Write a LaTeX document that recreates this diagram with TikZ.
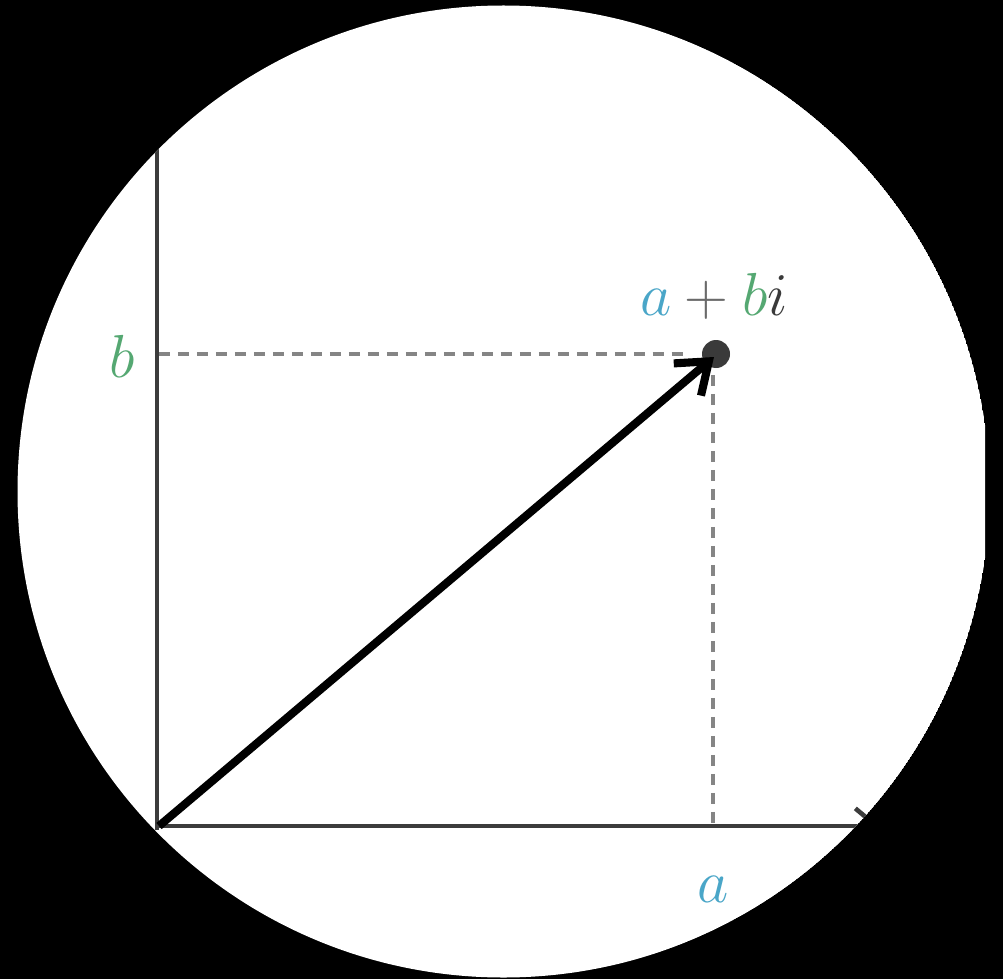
\documentclass[tikz,border=0pt]{standalone}
\usetikzlibrary{arrows.meta}
\definecolor{cblue}{HTML}{4AA6C8}
\definecolor{cgreen}{HTML}{55A872}
\definecolor{cplus}{HTML}{6A6A6A}
\definecolor{cdark}{HTML}{3A3A3A}
\definecolor{caxis}{HTML}{3C3C3C}
\definecolor{cdash}{HTML}{858585}
\tikzset{
  axisline/.style={draw=caxis, line width=1.3pt},
  dashline/.style={draw=cdash, line width=1.1pt, dash pattern=on 3.2pt off 2.2pt},
  vecline/.style={draw=black, line width=2.3pt, -{Straight Barb[length=8pt,width=12pt,line width=2.3pt]}},
  lab/.style={font=\fontsize{16.4}{20}\selectfont, inner sep=0pt}
}
\begin{document}
\begin{tikzpicture}[x=0.01cm,y=-0.01cm]
\useasboundingbox (0,0) rectangle (1003,979);
\fill[black] (0,0) rectangle (1003,979);
\begin{scope}
\clip (0,0) rectangle (985,979);
\clip (503.5,491.5) circle[radius=486];
\fill[white] (503.5,491.5) circle[radius=486];
\coordinate (O) at (159,826);
\coordinate (P) at (716,354);
\coordinate (Ytop) at (157,60);
\coordinate (Xend) at (880,826);
\coordinate (B) at (159,354);
\coordinate (A) at (713,826);
\draw[axisline] (157,830) -- (Ytop);
\draw[axisline, -{Straight Barb[length=6pt,width=10pt]}] (155,826) -- (Xend);
\draw[dashline] (B) -- (690,354);
\draw[dashline] (713,375) -- (A);
\fill[cdark] (P) circle[radius=14];
\draw[vecline] (O) -- (714,357);
\node[lab, text=cgreen] (lb) at (122,356) {$b$};
\node[lab, text=cblue] (la) at (713,889) {$a$};
\node[lab] (lab) at (714,296) {$\color{cblue}a\color{cplus}+\color{cgreen}b\color{cdark}i$};
\end{scope}
\end{tikzpicture}
\end{document}
